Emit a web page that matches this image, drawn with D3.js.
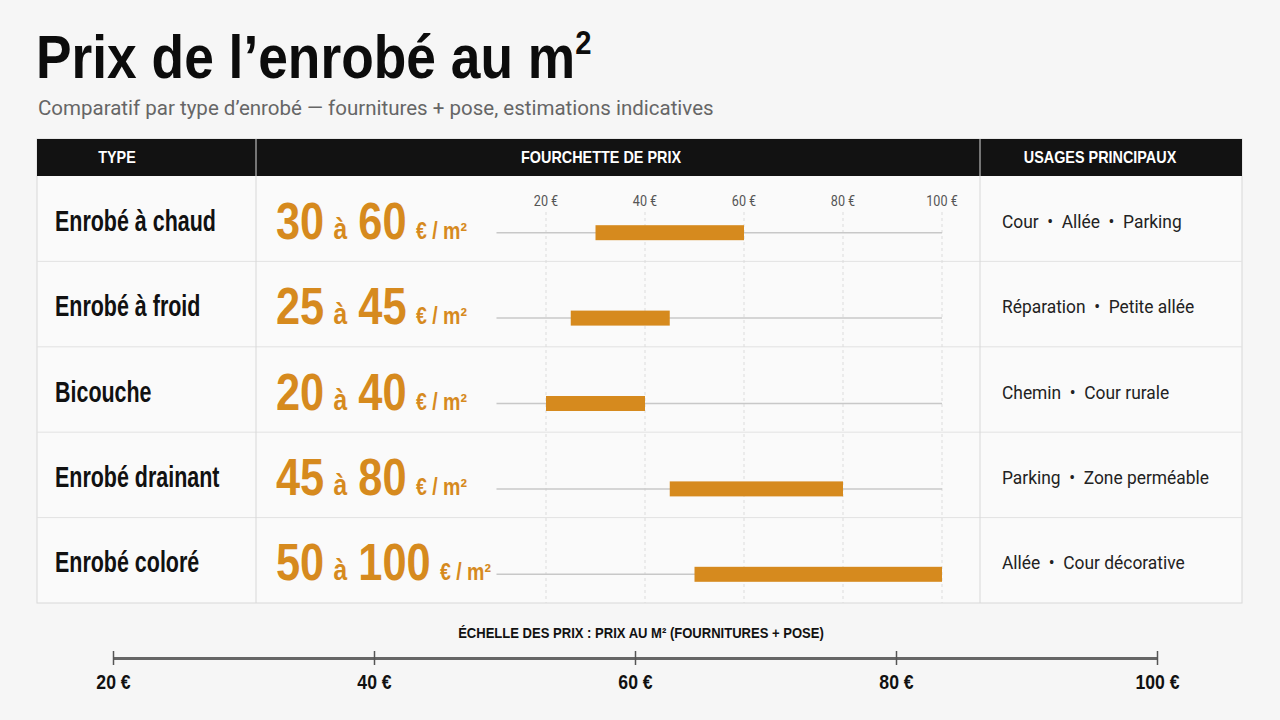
<!DOCTYPE html>
<html>
<head>
<meta charset="utf-8">
<script src="https://cdn.jsdelivr.net/npm/d3@7"></script>
<style>
  body { margin: 0; background: #f6f6f6; }
  .cond { font-family: "Liberation Sans", Arial, sans-serif; font-weight: bold; }
  .reg { font-family: Roboto, "Liberation Sans", sans-serif; }
</style>
</head>
<body>
<div id="chart"></div>
<script>

var types = ["Enrobé à chaud", "Enrobé à froid", "Bicouche", "Enrobé drainant", "Enrobé coloré"];
var prixMin = [30, 25, 20, 45, 50];
var prixMax = [60, 45, 40, 80, 100];
var usages = ["Cour • Allée • Parking", "Réparation • Petite allée", "Chemin • Cour rurale",
  "Parking • Zone perméable", "Allée • Cour décorative"];
var ticks = [20, 40, 60, 80, 100];

var width = 1280, height = 720;
var orange = "#d68a1e";

// condensed look: bold sans squeezed horizontally
function squeeze(x, y, k) {
  return 'translate(' + x + ',' + y + ') scale(' + k + ',1)';
}

var svg = d3.select('#chart')
  .append('svg')
    .attr('width', width)
    .attr('height', height)
    .style('background', '#f6f6f6');

// table frame
var tLeft = 37, tRight = 1242, tTop = 139, headH = 37, tBottom = 603;
var col1 = 256, col2 = 980;

var rows = d3.scaleBand()
  .domain(types)
  .range([tTop + headH, tBottom]);

// scale in the range column
var x = d3.scaleLinear()
  .domain([20, 100])
  .range([546, 942]);

// title
var title = svg.append('text')
  .attr('class', 'cond')
  .attr('transform', squeeze(36, 78, 0.86))
  .style('font-size', '62px').style('fill', '#0c0c0c');
title.append('tspan').text('Prix de l’enrobé au m');
title.append('tspan').attr('dy', -24).style('font-size', '34px').text('2');

svg.append('text')
  .attr('class', 'reg')
  .attr('x', 38).attr('y', 115)
  .style('font-size', '20.5px').style('fill', '#666')
  .text('Comparatif par type d’enrobé — fournitures + pose, estimations indicatives');

svg.append('rect')
  .attr('x', tLeft).attr('y', tTop)
  .attr('width', tRight - tLeft).attr('height', tBottom - tTop)
  .attr('fill', '#fafafa').attr('stroke', '#d8d8d8');

svg.append('rect')
  .attr('x', tLeft).attr('y', tTop)
  .attr('width', tRight - tLeft).attr('height', headH)
  .attr('fill', '#121212');

var heads = [["TYPE", 117], ["FOURCHETTE DE PRIX", 601], ["USAGES PRINCIPAUX", 1100]];
svg.selectAll('.head')
  .data(heads)
  .enter().append('text')
    .attr('class', 'cond head')
    .attr('transform', function(d) { return squeeze(d[1], tTop + 24, 0.9); })
    .style('text-anchor', 'middle')
    .style('font-size', '16px').style('fill', '#fff')
    .text(function(d) { return d[0]; });

// row separators
svg.selectAll('.sep')
  .data(types.slice(1))
  .enter().append('line')
    .attr('x1', tLeft).attr('x2', tRight)
    .attr('y1', function(d) { return rows(d); })
    .attr('y2', function(d) { return rows(d); })
    .attr('stroke', '#e2e2e2');

[col1, col2].forEach(function(c) {
  svg.append('line')
    .attr('x1', c).attr('x2', c)
    .attr('y1', tTop).attr('y2', tBottom)
    .attr('stroke', '#d8d8d8');
});

// grid in range column
var grid = svg.append('g');
grid.selectAll('line')
  .data(ticks)
  .enter().append('line')
    .attr('x1', function(d) { return x(d); })
    .attr('x2', function(d) { return x(d); })
    .attr('y1', 212).attr('y2', tBottom)
    .attr('stroke', '#dcdcdc')
    .attr('stroke-dasharray', '3,3');

grid.selectAll('text')
  .data(ticks)
  .enter().append('text')
    .attr('class', 'reg')
    .attr('transform', function(d) { return squeeze(x(d), 206, 0.9); })
    .style('text-anchor', 'middle')
    .style('font-size', '14px').style('fill', '#555')
    .text(function(d) { return d + ' €'; });

var row = svg.selectAll('.row')
  .data(types)
  .enter().append('g')
    .attr('transform', function(d) { return 'translate(0,' + (rows(d) + rows.bandwidth() / 2) + ')'; });

row.append('text')
  .attr('class', 'cond')
  .attr('transform', squeeze(55, 12, 0.74))
  .style('font-size', '29px').style('fill', '#111')
  .text(function(d) { return d; });

var big = row.append('text')
  .attr('class', 'cond')
  .attr('transform', squeeze(276, 20, 0.85))
  .style('fill', orange);
big.append('tspan').style('font-size', '51px')
  .text(function(d, i) { return prixMin[i]; });
big.append('tspan').style('font-size', '29px').attr('dx', 11)
  .text('à');
big.append('tspan').style('font-size', '51px').attr('dx', 13)
  .text(function(d, i) { return prixMax[i]; });
big.append('tspan').style('font-size', '23px').attr('dx', 11)
  .text('€ / m²');

row.append('line')
  .attr('x1', x(10)).attr('x2', x(100))
  .attr('y1', 14).attr('y2', 14)
  .attr('stroke', '#c8c8c8').attr('stroke-width', 1.5);

row.append('rect')
  .attr('x', function(d, i) { return x(prixMin[i]); })
  .attr('y', 6.5)
  .attr('width', function(d, i) { return x(prixMax[i]) - x(prixMin[i]); })
  .attr('height', 15)
  .attr('fill', orange);

row.append('text')
  .attr('class', 'reg')
  .attr('transform', squeeze(1002, 9, 0.94))
  .style('font-size', '18.5px').style('fill', '#222')
  .text(function(d, i) { return usages[i].replace(/ • /g, '\u00a0\u00a0•\u00a0\u00a0'); });

// bottom scale
var xb = d3.scaleLinear()
  .domain([20, 100])
  .range([113, 1157]);

svg.append('text')
  .attr('class', 'cond')
  .attr('transform', squeeze(641, 638, 0.9))
  .style('text-anchor', 'middle')
  .style('font-size', '14.5px').style('fill', '#111')
  .text('ÉCHELLE DES PRIX : PRIX AU M² (FOURNITURES + POSE)');

var axis = svg.append('g')
  .attr('transform', 'translate(0,658)')
  .call(d3.axisBottom(xb).tickValues(ticks).tickSize(0).tickFormat(function(d) { return d + ' €'; }));

axis.select('.domain').attr('stroke', '#666').attr('stroke-width', 3);
axis.selectAll('.tick line')
  .attr('y1', -7).attr('y2', 7)
  .attr('stroke', '#555').attr('stroke-width', 1.5);
axis.selectAll('.tick text')
  .attr('class', 'cond')
  .attr('y', 0).attr('dy', 0)
  .attr('transform', 'translate(0,31) scale(0.84,1)')
  .style('font-size', '21px').style('fill', '#111');

</script>
</body>
</html>
